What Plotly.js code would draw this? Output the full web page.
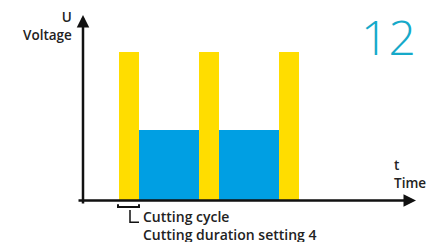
<!DOCTYPE html>
<html><head><meta charset="utf-8">
<script src="https://cdn.plot.ly/plotly-3.0.1.min.js"></script>
<style>html,body{margin:0;padding:0;background:#fff}#c{width:438px;height:242px}</style>
</head><body><div id="c"></div>
<script>
// Data: voltage pulses over time (time units = cycle steps)
const pulseStart = [0, 4, 8];        // high-voltage pulse start times
const pulseDuration = [1, 1, 1];
const pulseVoltage = [100, 100, 100];
const cutStart = [1, 5];             // cutting phase start times
const cutDuration = [3, 3];
const cutVoltage = [47, 47];
const labels = {yTop: "U", yName: "Voltage", xTop: "t", xName: "Time",
  note1: "Cutting cycle", note2: "Cutting duration setting 4", badge: "12"};

const FONT = "'Open Sans', Roboto, sans-serif";
const yellow = {type: "bar", x: pulseStart.map((s, i) => s + pulseDuration[i] / 2),
  y: pulseVoltage, width: pulseDuration, marker: {color: "#FFDD00", line: {width: 0}},
  hoverinfo: "skip"};
const blue = {type: "bar", x: cutStart.map((s, i) => s + cutDuration[i] / 2),
  y: cutVoltage, width: cutDuration, marker: {color: "#009FE3", line: {width: 0}},
  hoverinfo: "skip"};

const txt = (text, x, y, xanchor, size, color, weight) => ({
  text, x, y, xref: "x", yref: "y", xanchor, yanchor: "middle", align: xanchor === "center" ? "center" : xanchor,
  showarrow: false, font: {family: FONT, size, color, weight: weight || 600}, borderpad: 0});

const layout = {
  width: 438, height: 242, margin: {l: 0, r: 0, t: 0, b: 0},
  paper_bgcolor: "#fff", plot_bgcolor: "#fff", showlegend: false,
  barmode: "overlay", bargap: 0,
  xaxis: {range: [-5.95, 15.95], visible: false, fixedrange: true},
  yaxis: {range: [-28.4, 135.1], visible: false, fixedrange: true},
  shapes: [
    {type: "path", xref: "x", yref: "y", path: "M -0.05,-2.9 L -0.05,-4.8 L 1.0,-4.8 L 1.0,-2.9",
      line: {color: "#111", width: 2}},
    {type: "path", xref: "x", yref: "y", path: "M 0.55,-6.8 L 0.55,-15 L 1.0,-15",
      line: {color: "#111", width: 1.5}}
  ],
  annotations: [
    {x: -1.8, y: 125, ax: -1.8, ay: -3.4, xref: "x", yref: "y", axref: "x", ayref: "y",
      showarrow: true, arrowhead: 2, arrowsize: 1, arrowwidth: 2.5, arrowcolor: "#111", text: ""},
    {x: 14.85, y: -0.3, ax: -2.1, ay: -0.3, xref: "x", yref: "y", axref: "x", ayref: "y",
      showarrow: true, arrowhead: 2, arrowsize: 1, arrowwidth: 2.5, arrowcolor: "#111", text: ""},
    txt(labels.yTop + "<br>" + labels.yName, -2.3, 117.5, "right", 13.5, "#222"),
    txt(labels.xTop + "<br>" + labels.xName, 13.7, 17.6, "left", 13.5, "#222"),
    txt(labels.note1 + "<br>" + labels.note2, 1.15, -17.4, "left", 14, "#222"),
    txt(labels.badge, 13.45, 110.5, "center", 48, "#16A9C9", 300)
  ]
};
Plotly.newPlot("c", [blue, yellow], layout, {staticPlot: true, displayModeBar: false});
</script></body></html>
